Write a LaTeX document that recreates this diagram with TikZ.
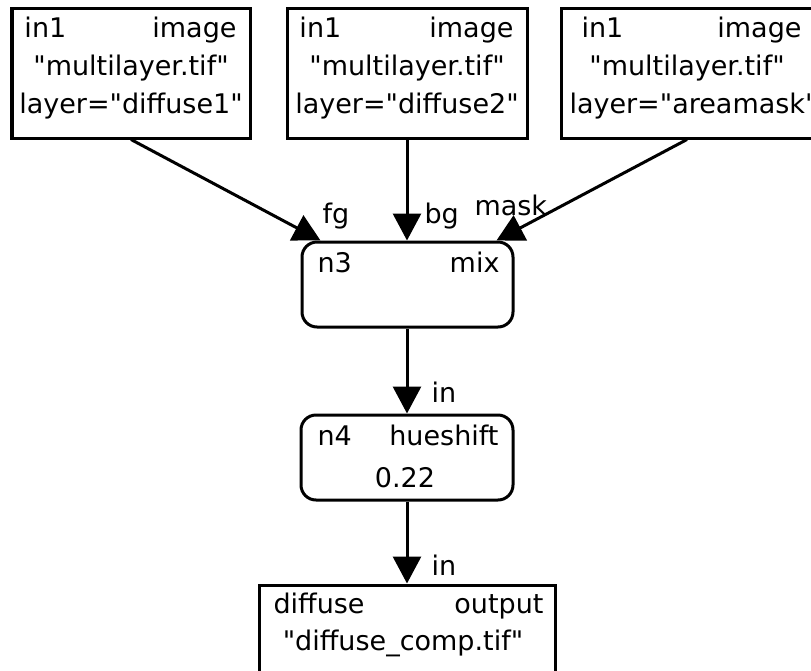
\documentclass[tikz,border=0pt]{standalone}
\usepackage{fontspec}
\setmainfont{DejaVu Sans}[Ligatures=TeXOff]
\usetikzlibrary{arrows.meta}

\begin{document}
\begin{tikzpicture}[x=0.5pt,y=-0.5pt,>={Triangle[length=13.5pt,width=14pt]},
        line width=1.5pt, font=\fontsize{13.5pt}{15pt}\selectfont,
        filebox/.style={draw,minimum height=65pt,inner sep=0pt},
        opbox/.style={draw,rounded corners=7.5pt,minimum width=106pt,minimum height=42.5pt,inner sep=0pt},
        txt/.style={inner sep=0pt}]
        \useasboundingbox (0,0) rectangle (811,671);

        % Input images
        \node[filebox,minimum width=119pt] (src1) at (131,73) {};
        \node[filebox,minimum width=120pt] (src2) at (407,73) {};
        \node[filebox,minimum width=126pt] (src3) at (687,73) {};
        \node[txt,anchor=base west] (src1id) at (23,37) {in1};
        \node[txt,anchor=base east] (src1type) at (238,37) {image};
        \node[txt,anchor=base] (src1file) at (131,75) {"multilayer.tif"};
        \node[txt,anchor=base] (src1layer) at (131,113) {layer="diffuse1"};
        \node[txt,anchor=base west] (src2id) at (298,37) {in1};
        \node[txt,anchor=base east] (src2type) at (515,37) {image};
        \node[txt,anchor=base] (src2file) at (407,75) {"multilayer.tif"};
        \node[txt,anchor=base] (src2layer) at (407,113) {layer="diffuse2"};
        \node[txt,anchor=base west] (src3id) at (580,37) {in1};
        \node[txt,anchor=base east] (src3type) at (803,37) {image};
        \node[txt,anchor=base] (src3file) at (687,75) {"multilayer.tif"};
        \node[txt,anchor=base west] (src3layer) at (568,113) {layer="areamask"};

        % Mix node
        \node[opbox,minimum width=105.5pt] (n3) at (407.5,284.5) {};
        \node[txt,anchor=base west] (n3id) at (316,272) {n3};
        \node[txt,anchor=base east] (n3type) at (501,272) {mix};
        \coordinate (n3fg) at ([xshift=10pt]n3.north west);
        \coordinate (n3mask) at ([xshift=-9pt]n3.north east);

        % Hueshift node
        \node[opbox] (n4) at (407,457.5) {};
        \node[txt,anchor=base west] (n4id) at (316,445) {n4};
        \node[txt,anchor=base east] (n4type) at (500,445) {hueshift};
        \node[txt,anchor=base] (n4val) at (405,487) {0.22};

        % Output
        \node[draw,minimum width=148pt,minimum height=45pt,inner sep=0pt] (out) at (407,630) {};
        \node[txt,anchor=base west] (outid) at (272,613) {diffuse};
        \node[txt,anchor=base east] (outtype) at (545,613) {output};
        \node[txt,anchor=base] (outfile) at (403,650) {"diffuse\_comp.tif"};

        % Connections
        \draw[->] (src1.south) -- (n3fg);
        \draw[->] (src2.south) -- (src2.south |- n3.north);
        \draw[->] (src3.south) -- (n3mask);
        \draw[->] (n3.south -| n4.north) -- (n4.north);
        \draw[->] (n4.south) -- (n4.south |- out.north);

        % Port labels
        \node[txt,anchor=base west] (lfg) at (321,223) {fg};
        \node[txt,anchor=base west] (lbg) at (423,223) {bg};
        \node[txt,anchor=base west] (lmask) at (473,215) {mask};
        \node[txt,anchor=base west] (lin1) at (430,402) {in};
        \node[txt,anchor=base west] (lin2) at (430,575) {in};
    \end{tikzpicture}
\end{document}
